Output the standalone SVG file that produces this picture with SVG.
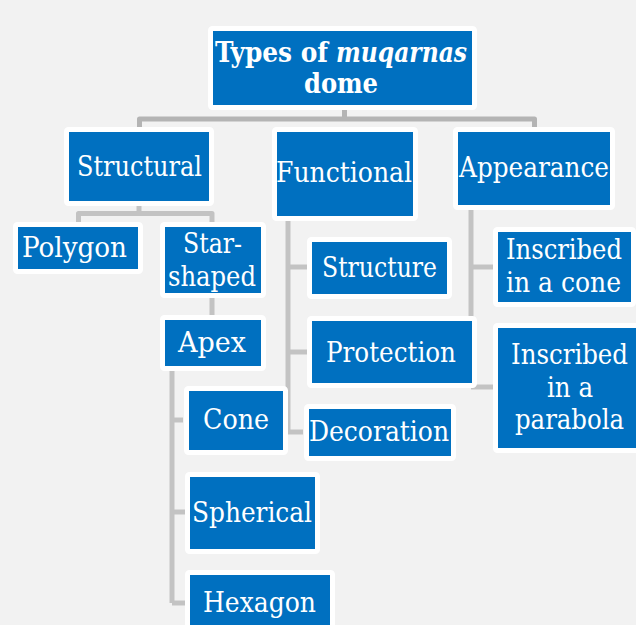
<svg xmlns="http://www.w3.org/2000/svg" width="636" height="625" viewBox="0 0 636 625">
<style>
.bg{fill:#f2f2f2}
.box{fill:#0070c0;stroke:#ffffff;stroke-width:5}
text{font-family:'DejaVu Serif Condensed','DejaVu Serif',serif;font-stretch:condensed;font-size:28px;fill:#ffffff;text-anchor:middle}
.title{font-weight:bold;text-anchor:start}
.c{fill:none;stroke:#c3c3c3;stroke-width:5;stroke-linejoin:round}
.c0{stroke:#b4b4b4}
</style>
<rect class="bg" x="0" y="0" width="636" height="625"/>
<g id="connectors">
<path class="c c0" d="M139.5,127 V119 H534.5 V127 M344.5,110 V119"/>
<path class="c" d="M139,205 V213.5 M78.5,222 V213.5 H212 V222"/>
<path class="c" d="M212,298 V315"/>
<path class="c" d="M288,220 V432 M288,267 H307 M288,352 H307 M288,432 H303"/>
<path class="c" d="M471,210 V387 M471,267 H493 M471,387 H493"/>
<path class="c" d="M172,371 V603 M172,420 H183 M172,512 H185 M172,603 H185"/>
</g>
<g id="title">
<rect class="box" x="210.5" y="28.5" width="264" height="79" rx="2"/>
<text class="title" y="62"><tspan x="215" textLength="113" lengthAdjust="spacingAndGlyphs">Types of</tspan> <tspan x="336" textLength="131" lengthAdjust="spacingAndGlyphs" font-style="italic">muqarnas</tspan></text>
<text class="title" x="304" y="93" textLength="74" lengthAdjust="spacingAndGlyphs">dome</text>
</g>
<g id="structural">
<rect class="box" x="66.5" y="129.5" width="145" height="74" rx="2"/>
<text x="139.5" y="176" textLength="125" lengthAdjust="spacingAndGlyphs">Structural</text>
</g>
<g id="functional">
<rect class="box" x="274.5" y="129.5" width="141" height="89" rx="2"/>
<text x="344" y="182" textLength="136" lengthAdjust="spacingAndGlyphs">Functional</text>
</g>
<g id="appearance">
<rect class="box" x="455.5" y="129.5" width="157" height="78" rx="2"/>
<text x="534" y="177" textLength="150" lengthAdjust="spacingAndGlyphs">Appearance</text>
</g>
<g id="polygon">
<rect class="box" x="15.5" y="224.5" width="125" height="47" rx="2"/>
<text x="74.5" y="257" textLength="105" lengthAdjust="spacingAndGlyphs">Polygon</text>
</g>
<g id="star-shaped">
<rect class="box" x="162.5" y="224.5" width="101" height="71" rx="2"/>
<text x="212.5" y="253" textLength="59" lengthAdjust="spacingAndGlyphs">Star-</text>
<text x="212" y="286" textLength="88" lengthAdjust="spacingAndGlyphs">shaped</text>
</g>
<g id="apex">
<rect class="box" x="162.5" y="317.5" width="101" height="51" rx="2"/>
<text x="212" y="352" textLength="68" lengthAdjust="spacingAndGlyphs">Apex</text>
</g>
<g id="cone">
<rect class="box" x="186.5" y="388.5" width="99" height="64" rx="2"/>
<text x="236" y="429" textLength="66" lengthAdjust="spacingAndGlyphs">Cone</text>
</g>
<g id="spherical">
<rect class="box" x="187.5" y="474.5" width="130" height="77" rx="2"/>
<text x="252" y="522" textLength="120" lengthAdjust="spacingAndGlyphs">Spherical</text>
</g>
<g id="hexagon">
<rect class="box" x="187.5" y="572.5" width="145" height="70" rx="2"/>
<text x="259.5" y="612" textLength="113" lengthAdjust="spacingAndGlyphs">Hexagon</text>
</g>
<g id="structure">
<rect class="box" x="309.5" y="239.5" width="140" height="57" rx="2"/>
<text x="379.5" y="277" textLength="115" lengthAdjust="spacingAndGlyphs">Structure</text>
</g>
<g id="protection">
<rect class="box" x="309.5" y="318.5" width="165" height="67" rx="2"/>
<text x="391" y="362" textLength="130" lengthAdjust="spacingAndGlyphs">Protection</text>
</g>
<g id="decoration">
<rect class="box" x="306.5" y="406.5" width="147" height="52" rx="2"/>
<text x="379" y="441" textLength="140" lengthAdjust="spacingAndGlyphs">Decoration</text>
</g>
<g id="inscribed-cone">
<rect class="box" x="495.5" y="229.5" width="138" height="75" rx="2"/>
<text x="564" y="259" textLength="116" lengthAdjust="spacingAndGlyphs">Inscribed</text>
<text x="563.5" y="292" textLength="115" lengthAdjust="spacingAndGlyphs">in a cone</text>
</g>
<g id="inscribed-parabola">
<rect class="box" x="495.5" y="325.5" width="148" height="125" rx="2"/>
<text x="569.5" y="364" textLength="117" lengthAdjust="spacingAndGlyphs">Inscribed</text>
<text x="570" y="397" textLength="46" lengthAdjust="spacingAndGlyphs">in a</text>
<text x="569.5" y="429" textLength="109" lengthAdjust="spacingAndGlyphs">parabola</text>
</g>
</svg>
